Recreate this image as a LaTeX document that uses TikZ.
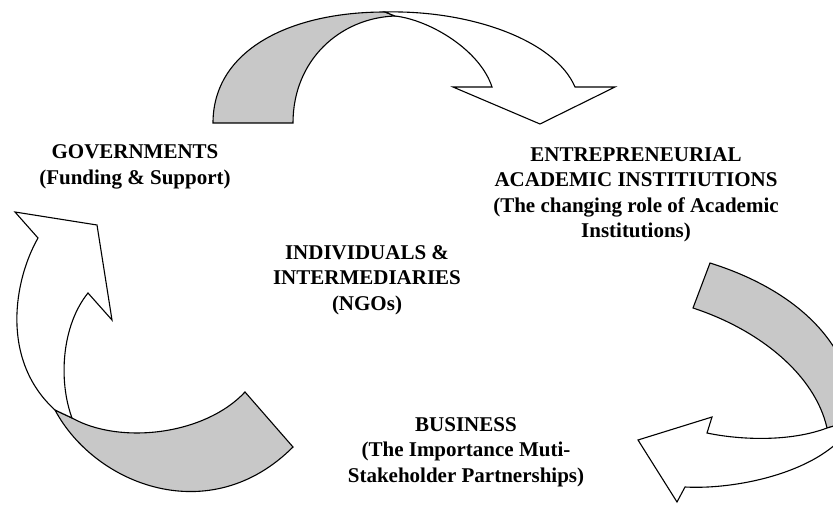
\documentclass[tikz,border=0pt]{standalone}
\usepackage{fontspec}
\setmainfont{Liberation Serif}
\usepackage{tikz}

\definecolor{bandgray}{RGB}{200,200,200}

\begin{document}
\begin{tikzpicture}[x=1pt,y=1pt,yscale=-1,xscale=1,
    band/.style={draw=black,line width=1.1pt,line join=miter},
    backband/.style={band,fill=bandgray},
    frontband/.style={band,fill=white},
    label/.style={align=center,inner sep=0.75pt,font=\fontsize{21}{25.5}\selectfont\bfseries}]
    \useasboundingbox (0,0) rectangle (833,508);

    \begin{scope}
    \clip (0,0) rectangle (833,508);
    %Shape: Curved Arrow (top, back side)
    \draw [backband] (213,123) .. controls (213,50) and (290,12) .. (385,12) -- (395,16) .. controls (340,18) and (293,60) .. (293,123) -- cycle ;
    %Shape: Curved Arrow (top, front side)
    \draw [frontband] (385,12) .. controls (470,10) and (555,40) .. (575,87) -- (615,87) -- (540,124) -- (453,87) -- (492,87) .. controls (480,50) and (430,20) .. (395,16) -- cycle ;

    %Shape: Curved Arrow (right, back side)
    \draw [backband] (710,263) .. controls (790,288) and (855,340) .. (855,420) -- (827,428) .. controls (815,375) and (760,330) .. (693,308) -- cycle ;
    %Shape: Curved Arrow (right, front side)
    \draw [frontband] (855,420) -- (827,428) .. controls (790,442) and (740,440) .. (707,433) -- (712,417) -- (638,440) -- (677,502) -- (685,487) .. controls (740,490) and (830,470) .. (855,420) -- cycle ;

    %Shape: Curved Arrow (left, back side)
    \draw [backband] (55,410) .. controls (95,485) and (210,530) .. (293,447) -- (245,392) .. controls (205,435) and (120,445) .. (72,418) -- cycle ;
    %Shape: Curved Arrow (left, front side)
    \draw [frontband] (55,410) .. controls (0,360) and (14,280) .. (38,238) -- (15,212) -- (97,225) -- (112,320) -- (88,293) .. controls (62,325) and (58,380) .. (72,418) -- cycle ;
    \end{scope}

    % Text Node
    \node [label] (gov) at (135,167) {GOVERNMENTS\\(Funding \& Support)};
    % Text Node
    \node [label] (academia) at (636,195) {ENTREPRENEURIAL\\ACADEMIC INSTITIUTIONS\\(The changing role of Academic\\Institutions)};
    % Text Node
    \node [label] (ngo) at (367,280) {INDIVIDUALS \&\\INTERMEDIARIES\\(NGOs)};
    % Text Node
    \node [label] (business) at (466,452) {BUSINESS\\(The Importance Muti-\\Stakeholder Partnerships)};

\end{tikzpicture}
\end{document}
